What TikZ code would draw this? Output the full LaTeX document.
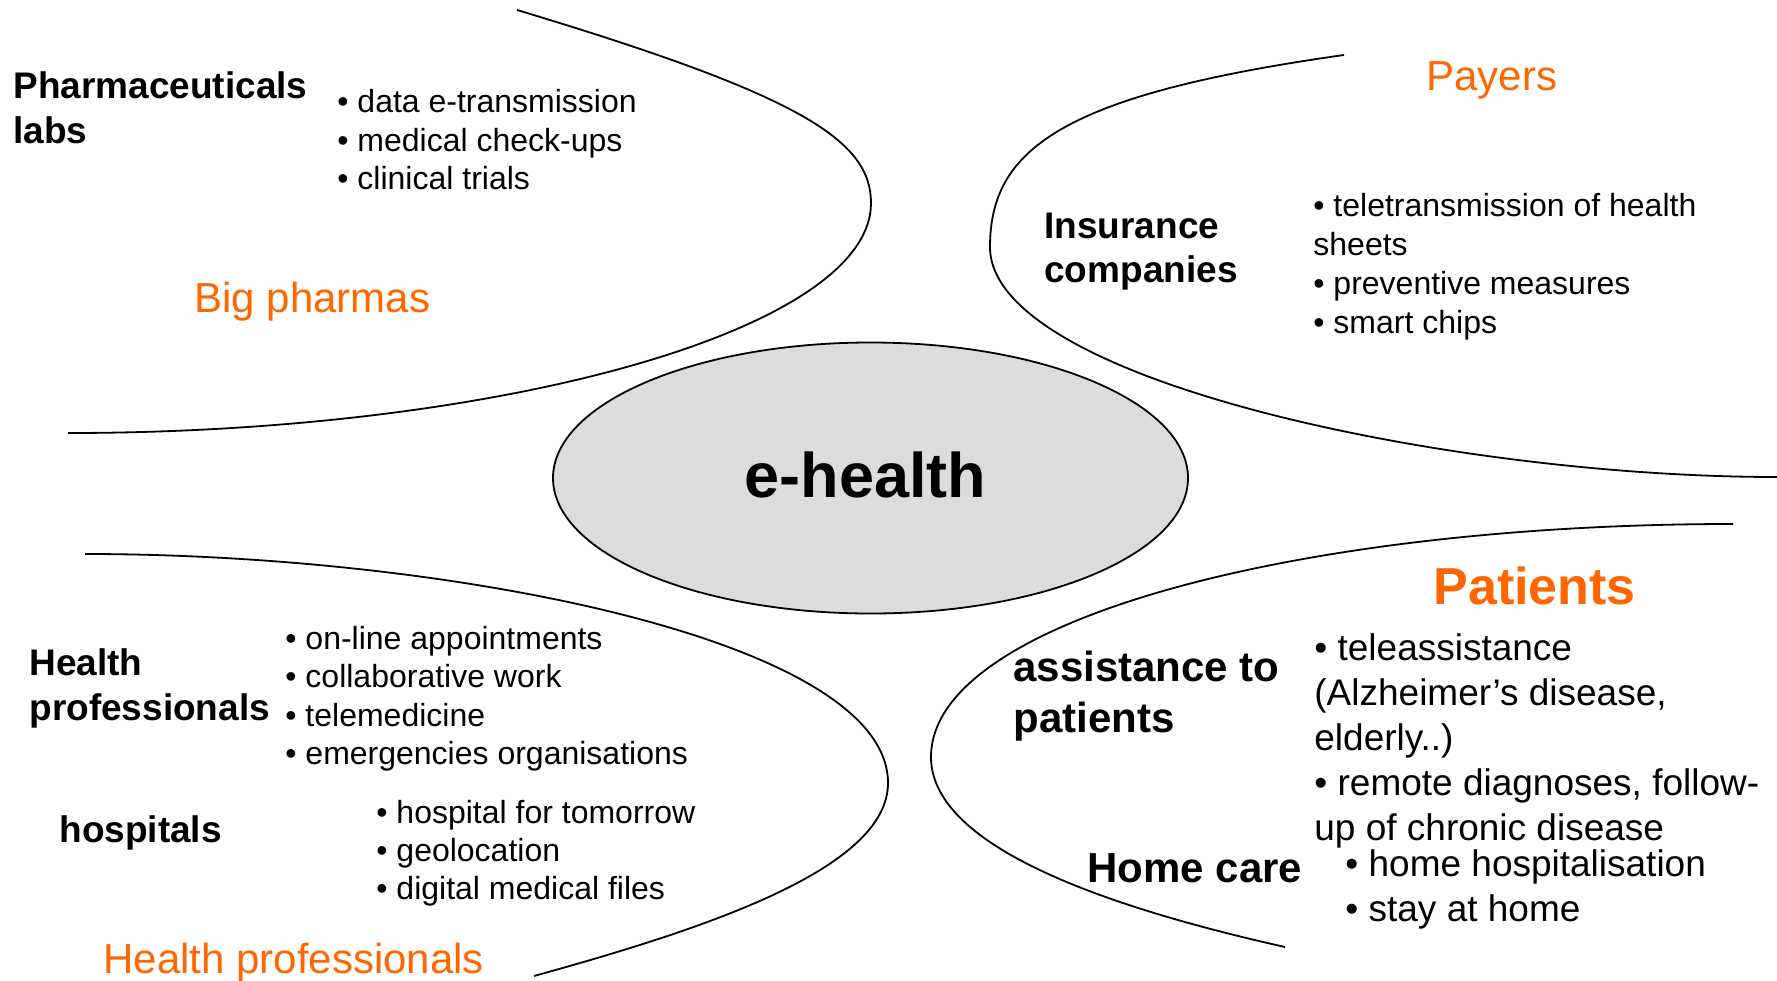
\documentclass[tikz,border=0pt]{standalone}
\usepackage{fontspec}
\setmainfont{Liberation Sans}
\usetikzlibrary{shapes.geometric}
\definecolor{orng}{HTML}{FF6600}
\definecolor{hubgray}{HTML}{DCDCDC}
\tikzset{
  curve/.style={line width=0.9pt, black},
  lbl/.style={anchor=base west, inner sep=0pt, font=\fontsize{18.5}{22}\selectfont\bfseries},
  lblbig/.style={anchor=base west, inner sep=0pt, font=\fontsize{21}{25}\selectfont\bfseries},
  itm/.style={anchor=base west, inner sep=0pt, font=\fontsize{16}{19}\selectfont},
  itmbig/.style={anchor=base west, inner sep=0pt, font=\fontsize{18.5}{22}\selectfont},
  grp/.style={anchor=base west, inner sep=0pt, text=orng, font=\fontsize{21}{25}\selectfont},
  hub/.style={ellipse, draw, line width=0.9pt, fill=hubgray, inner sep=0pt, minimum width=317.5pt, minimum height=135.5pt},
}
\begin{document}
\begin{tikzpicture}[x=0.5pt, y=-0.5pt]
\useasboundingbox (0,0) rectangle (1777,980);

% curves
\draw[curve] (517,10) .. controls (800,95) and (871,140) .. (871,203)
  .. controls (871,330) and (500,433) .. (68,433);
\draw[curve] (1344,55) .. controls (1060,95) and (990,150) .. (990,247)
  .. controls (990,380) and (1450,477) .. (1777,477);
\draw[curve] (85,554) .. controls (450,554) and (888,640) .. (888,783)
  .. controls (888,870) and (700,930) .. (534,976);
\draw[curve] (1733,524) .. controls (1300,524) and (931,620) .. (931,757)
  .. controls (931,850) and (1120,910) .. (1285,947);

% hub
\node[hub] (hubshape) at (870.5,478) {};
\node[anchor=base, inner sep=0pt, font=\fontsize{31.5}{36}\selectfont\bfseries] (hubtext) at (865.5,497) {e-health};

% top left
\node[lbl] (pl1) at (13,98) {Pharmaceuticals};
\node[lbl] (pl2) at (13,143) {labs};
\node[itm] (pb1) at (337,112) {• data e-transmission};
\node[itm] (pb2) at (337,151) {• medical check-ups};
\node[itm] (pb3) at (337,189) {• clinical trials};
\node[grp] (bigph) at (194,312) {Big pharmas};

% top right
\node[grp] (payers) at (1426,90) {Payers};
\node[lbl] (ic1) at (1044,238) {Insurance};
\node[lbl] (ic2) at (1044,282) {companies};
\node[itm] (ib1) at (1313,216) {• teletransmission of health};
\node[itm] (ib1b) at (1313,255) {sheets};
\node[itm] (ib2) at (1313,294) {• preventive measures};
\node[itm] (ib3) at (1313,333) {• smart chips};

% bottom left
\node[lbl] (hp1) at (29,675) {Health};
\node[lbl] (hp2) at (29,720) {professionals};
\node[itm] (hb1) at (285,649) {• on-line appointments};
\node[itm] (hb2) at (285,687) {• collaborative work};
\node[itm] (hb3) at (285,726) {• telemedicine};
\node[itm] (hb4) at (285,764) {• emergencies organisations};
\node[lbl] (hosp) at (59,842) {hospitals};
\node[itm] (ob1) at (376,823) {• hospital for tomorrow};
\node[itm] (ob2) at (376,861) {• geolocation};
\node[itm] (ob3) at (376,899) {• digital medical files};
\node[grp] (hprof) at (103,973) {Health professionals};

% bottom right
\node[anchor=base west, inner sep=0pt, text=orng, font=\fontsize{26}{30}\selectfont\bfseries] (patients) at (1433,604) {Patients};
\node[lblbig] (ap1) at (1013,681) {assistance to};
\node[lblbig] (ap2) at (1013,732) {patients};
\node[itmbig] (ab1) at (1314,660) {• teleassistance};
\node[itmbig] (ab1b) at (1314,705) {(Alzheimer’s disease,};
\node[itmbig] (ab1c) at (1314,750) {elderly..)};
\node[itmbig] (ab2) at (1314,795) {• remote diagnoses, follow-};
\node[itmbig] (ab2b) at (1314,840) {up of chronic disease};
\node[lblbig] (home) at (1087,882) {Home care};
\node[itmbig] (hc1) at (1345,876) {• home hospitalisation};
\node[itmbig] (hc2) at (1345,921) {• stay at home};
\end{tikzpicture}
\end{document}
